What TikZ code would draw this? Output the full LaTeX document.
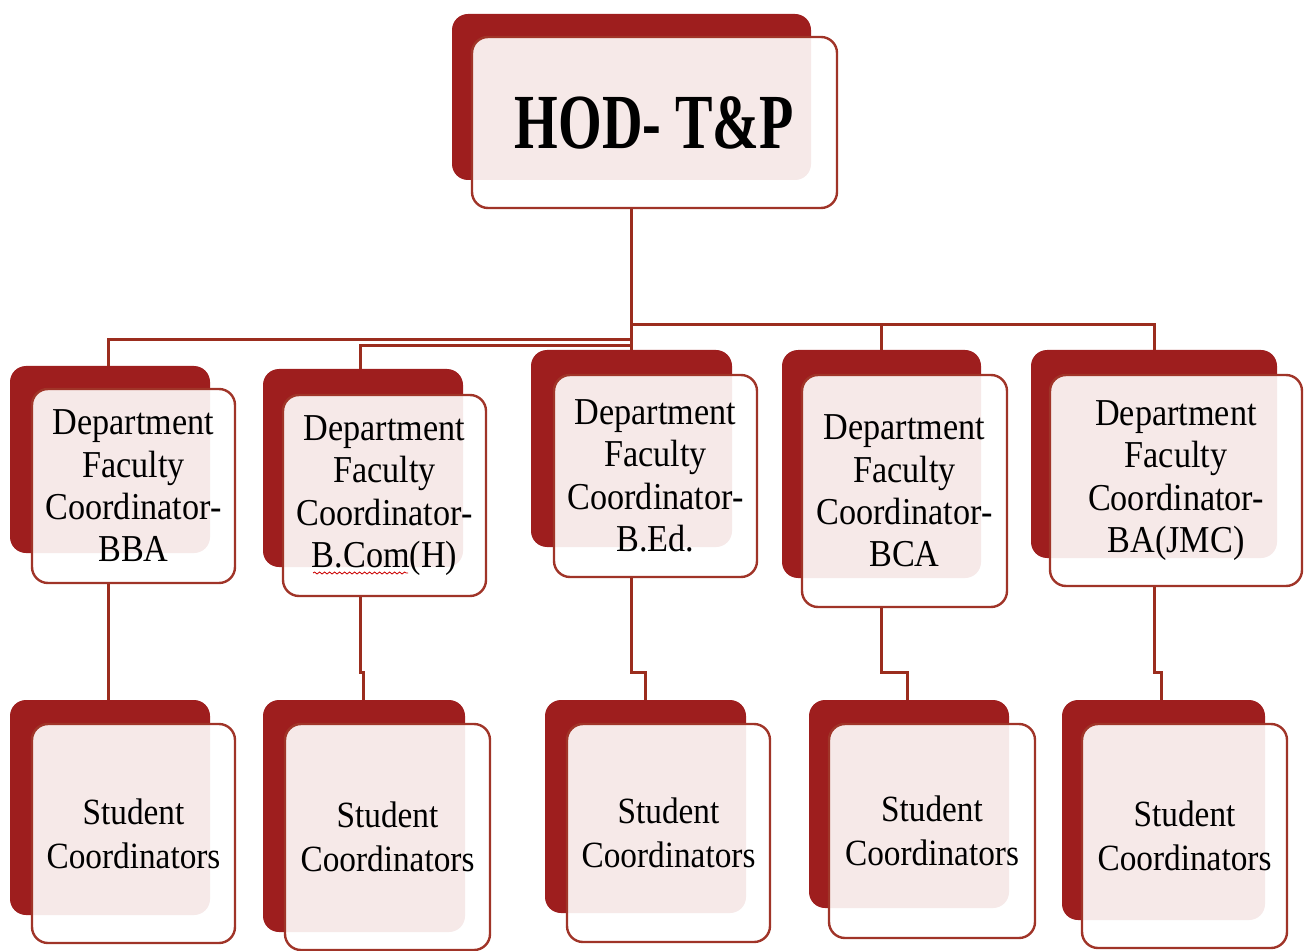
\documentclass[tikz,border=0pt]{standalone}
\usepackage{fontspec}
\setmainfont{Liberation Serif}
\newfontfamily\condfont[FakeStretch=0.9]{Liberation Serif}
\newfontfamily\hodfont[FakeStretch=0.72]{Liberation Serif}
\usetikzlibrary{fit,backgrounds,decorations.pathmorphing}
\definecolor{backred}{RGB}{158,30,30}
\definecolor{edgered}{RGB}{160,52,40}
\definecolor{lightpink}{RGB}{246,233,232}
\definecolor{linered}{RGB}{155,45,30}
\tikzset{
  frontbox/.style={draw=edgered, line width=1.2pt, rounded corners=8pt, inner sep=0pt},
  deptfont/.style={font=\condfont\fontsize{19}{21.2}\selectfont},
  studfont/.style={font=\condfont\fontsize{18.5}{22}\selectfont},
  hodstyle/.style={font=\hodfont\bfseries\fontsize{39}{40}\selectfont},
  conn/.style={draw=linered, line width=1.5pt},
}
\newcommand\orgbox[7]{%
  \coordinate (#1-b1) at #2; \coordinate (#1-b2) at #3;
  \coordinate (#1-f1) at #4; \coordinate (#1-f2) at #5;
  \begin{scope}[on background layer]
    \fill[backred, rounded corners=8pt] (#1-b1) rectangle (#1-b2);
    \fill[white, rounded corners=8pt] (#1-f1) rectangle (#1-f2);
    \begin{scope}
      \clip[rounded corners=8pt] (#1-f1) rectangle (#1-f2);
      \fill[lightpink, rounded corners=8pt] (#1-b1) rectangle (#1-b2);
    \end{scope}
  \end{scope}
  \node[frontbox, fit=(#1-f1)(#1-f2)] (#1) {};
  \node[align=center, inner sep=0pt, #6] (#1-t) at (#1.center) {#7};
}
\begin{document}
\begin{tikzpicture}[x=0.5pt,y=-0.5pt]
\useasboundingbox (0,0) rectangle (1304,951);
% top
\orgbox{hod}{(452,14)}{(811,180)}{(472,37)}{(837,208)}{hodstyle}{HOD- T\&P}
% departments
\orgbox{bba}{(10,366)}{(210,553)}{(32,389)}{(235,583)}{deptfont}{Department\\Faculty\\Coordinator-\\BBA}
\orgbox{bcom}{(263,369)}{(463,567)}{(283,395)}{(486,596)}{deptfont}{Department\\Faculty\\Coordinator-\\B.Com(H)}
\orgbox{bed}{(531,350)}{(732,547)}{(554,375)}{(757,577)}{deptfont}{Department\\Faculty\\Coordinator-\\B.Ed.}
\orgbox{bca}{(782,350)}{(981,578)}{(802,375)}{(1007,607)}{deptfont}{Department\\Faculty\\Coordinator-\\BCA}
\orgbox{baj}{(1031,350)}{(1277,558)}{(1050,375)}{(1302,586)}{deptfont}{Department\\Faculty\\Coordinator-\\BA(JMC)}
% students
\orgbox{sa}{(10,700)}{(210,915)}{(32,724)}{(235,943)}{studfont}{Student\\Coordinators}
\orgbox{sb}{(263,700)}{(465,932)}{(285,724)}{(490,950)}{studfont}{Student\\Coordinators}
\orgbox{sc}{(545,700)}{(746,913)}{(567,724)}{(770,942)}{studfont}{Student\\Coordinators}
\orgbox{sd}{(809,700)}{(1009,908)}{(829,724)}{(1035,938)}{studfont}{Student\\Coordinators}
\orgbox{se}{(1062,700)}{(1265,920)}{(1082,724)}{(1287,948)}{studfont}{Student\\Coordinators}
% spell-check squiggle
\coordinate (sq1) at (313,573);
\coordinate (sq2) at (408,573);
\draw[red!80!black, line width=0.4pt, decorate, decoration={snake, amplitude=0.5pt, segment length=2.5pt}] (sq1) -- (sq2);
% connector guide coordinates
\coordinate (xa) at (108,0);
\coordinate (xb) at (360,0);
\coordinate (xb2) at (363,0);
\coordinate (xc) at (631,0);
\coordinate (xc2) at (645,0);
\coordinate (xd) at (881,0);
\coordinate (xd2) at (907,0);
\coordinate (xe) at (1154,0);
\coordinate (xe2) at (1161,0);
\coordinate (yR) at (0,325);
\coordinate (yL1) at (0,340);
\coordinate (yL2) at (0,346);
\coordinate (yJ) at (0,672);
% top connectors
\draw[conn] (xc |- hod.south) -- (xc |- bed-b1);
\draw[conn] (xc |- yR) -- (xe |- yR) -- (xe |- baj-b1);
\draw[conn] (xd |- yR) -- (xd |- bca-b1);
\draw[conn] (xc |- yL1) -- (xa |- yL1) -- (xa |- bba-b1);
\draw[conn] (xc |- yL2) -- (xb |- yL2) -- (xb |- bcom-b1);
% lower connectors
\draw[conn] (xa |- bba.south) -- (xa |- sa-b1);
\draw[conn] (xb |- bcom.south) -- (xb |- yJ) -- (xb2 |- yJ) -- (xb2 |- sb-b1);
\draw[conn] (xc |- bed.south) -- (xc |- yJ) -- (xc2 |- yJ) -- (xc2 |- sc-b1);
\draw[conn] (xd |- bca.south) -- (xd |- yJ) -- (xd2 |- yJ) -- (xd2 |- sd-b1);
\draw[conn] (xe |- baj.south) -- (xe |- yJ) -- (xe2 |- yJ) -- (xe2 |- se-b1);
\end{tikzpicture}
\end{document}
